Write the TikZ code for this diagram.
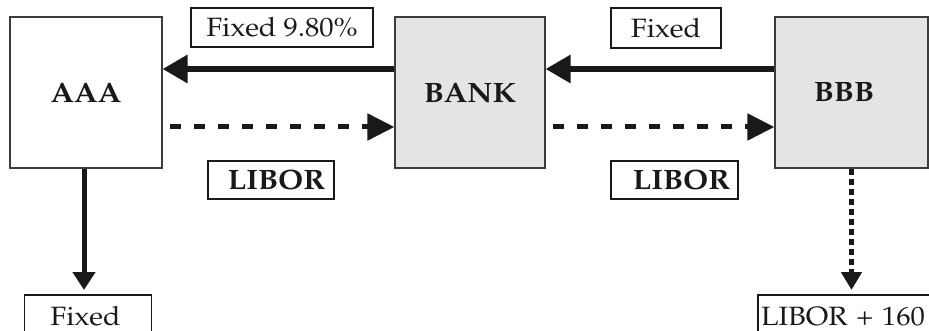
\documentclass[tikz,border=0pt]{standalone}
\usepackage[T1]{fontenc}
\usepackage{mathpazo}
\usepackage{graphicx}
\usetikzlibrary{arrows.meta}
\definecolor{bankgray}{RGB}{227,228,230}
\definecolor{edgegray}{RGB}{60,60,60}
\definecolor{ink}{RGB}{25,25,25}
\newcommand{\hstr}[1]{\scalebox{1.08}[1]{#1}}
\newcommand{\normtxt}{\fontsize{26.5}{30}\selectfont}
\newcommand{\boldtxt}{\fontsize{28}{31}\selectfont\bfseries}
\begin{document}
\begin{tikzpicture}[x=1pt,y=-1pt,
  party/.style={draw=edgegray, line width=1.1pt, inner sep=0pt, minimum height=151pt, text=ink},
  tag/.style={draw=ink, line width=1.2pt, inner sep=0pt, fill=white, text=ink},
  tagline/.style={draw=ink, line width=1.2pt},
  plaintext/.style={inner sep=0pt, text=ink},
  bigflow/.style={draw=ink, line width=6pt, -{Triangle[length=25pt,width=27pt]}},
  dashflow/.style={draw=ink, line width=5pt, dash pattern=on 11pt off 13pt, -{Triangle[length=27pt,width=26pt]}},
  downflow/.style={draw=ink, line width=5pt, -{Triangle[length=18pt,width=22pt]}},
  downdash/.style={draw=ink, line width=4.5pt, dash pattern=on 6.5pt off 3.5pt, -{Triangle[length=18pt,width=20pt]}}
]
\useasboundingbox (0,0) rectangle (929,331);
\clip (0,0) rectangle (929,331);

% parties
\node[party, minimum width=152pt] (aaa) at (86,92.5) {\boldtxt\hstr{AAA}};
\node[party, minimum width=150pt, fill=bankgray] (bank) at (470,92.5) {\boldtxt\hstr{BANK}};
\node[party, minimum width=153pt, fill=bankgray] (bbb) at (851.5,92.5) {\boldtxt\hspace*{-15pt}\hstr{BBB}};

% labels
\node[tag, minimum width=182pt, minimum height=39pt] (f980) at (282,27.5) {\normtxt\hstr{Fixed 9.80\%}};
\node[tag, minimum width=110pt, minimum height=40pt] (fixr) at (666,28) {\normtxt\hstr{Fixed}};
\node[tag, minimum width=126pt, minimum height=38pt] (libl) at (271,180) {\boldtxt\hspace*{11pt}\hstr{LIBOR}};
\node[tag, minimum width=127pt, minimum height=38pt] (libr) at (674.5,180) {\boldtxt\hspace*{14pt}\hstr{LIBOR}};

% bottom labels (open at the picture's lower/right edge)
\node[inner sep=0pt, minimum width=126pt, minimum height=36pt, anchor=north] (fixb) at (88,295) {};
\draw[tagline] (fixb.south west) |- (fixb.north east) -- (fixb.south east);
\node[plaintext, anchor=base] (fixbtxt) at (85.5,325) {\normtxt\hstr{Fixed}};
\node[inner sep=0pt, minimum width=200pt, minimum height=36pt, anchor=north west] (lib160) at (758,295) {};
\draw[tagline] (lib160.south west) |- (lib160.north east);
\node[plaintext, anchor=base west] (lib160txt) at (761,325) {\normtxt\hstr{LIBOR\hspace{0.3em}+\hspace{0.3em}160}};

% flows
\draw[bigflow] ([yshift=23.5pt]bank.west) -- ([yshift=23.5pt]aaa.east);
\draw[bigflow] ([yshift=23.5pt]bbb.west) -- ([yshift=23.5pt]bank.east);
\draw[dashflow, shorten <=7pt] ([yshift=-34.5pt]aaa.east) -- ([yshift=-34.5pt]bank.west);
\draw[dashflow, shorten <=7pt] ([yshift=-34.5pt]bank.east) -- ([yshift=-34.5pt]bbb.west);
\draw[downflow, shorten >=5pt] ([xshift=-2pt]aaa.south) -- ([xshift=-2pt]aaa.south |- fixb.north);
\draw[downdash, shorten >=5pt] (bbb.south) -- (bbb.south |- lib160.north);
\end{tikzpicture}
\end{document}
